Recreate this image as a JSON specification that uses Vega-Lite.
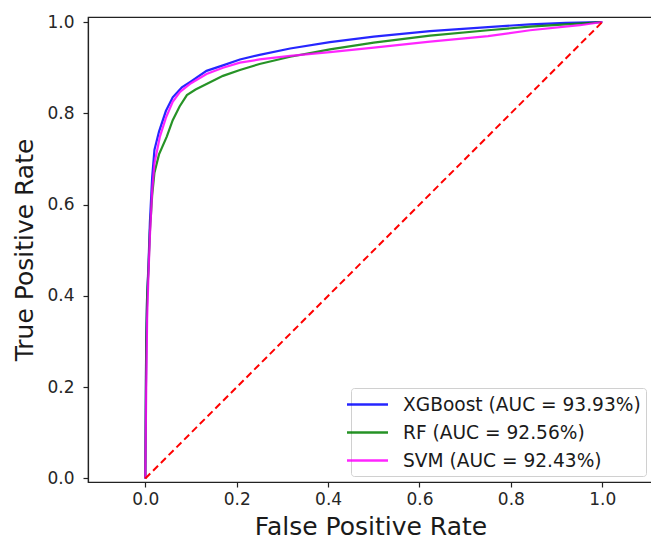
{
  "$schema": "https://vega.github.io/schema/vega-lite/v6.json",
  "width": 565,
  "height": 465,
  "autosize": {"type": "none"},
  "padding": {"left": 88, "top": 17, "right": 0, "bottom": 57},
  "background": "white",
  "config": {
    "view": {"stroke": "#222", "strokeWidth": 1.2},
    "font": "DejaVu Sans",
    "axis": {"grid": false, "domainColor": "#222", "tickColor": "#222", "labelColor": "#262626", "titleColor": "#1a1a1a", "labelFont": "DejaVu Sans", "titleFont": "DejaVu Sans", "titleFontWeight": "normal", "tickSize": 5, "domainWidth": 1.2, "tickWidth": 1.2}
  },
  "datasets": {
    "roc": [
      {"model": "XGBoost (AUC = 93.93%)", "fpr": 0, "tpr": 0},
      {"model": "XGBoost (AUC = 93.93%)", "fpr": 0.001, "tpr": 0.15},
      {"model": "XGBoost (AUC = 93.93%)", "fpr": 0.002, "tpr": 0.30},
      {"model": "XGBoost (AUC = 93.93%)", "fpr": 0.004, "tpr": 0.40},
      {"model": "XGBoost (AUC = 93.93%)", "fpr": 0.007, "tpr": 0.47},
      {"model": "XGBoost (AUC = 93.93%)", "fpr": 0.01, "tpr": 0.56},
      {"model": "XGBoost (AUC = 93.93%)", "fpr": 0.015, "tpr": 0.66},
      {"model": "XGBoost (AUC = 93.93%)", "fpr": 0.02, "tpr": 0.72},
      {"model": "XGBoost (AUC = 93.93%)", "fpr": 0.03, "tpr": 0.76},
      {"model": "XGBoost (AUC = 93.93%)", "fpr": 0.045, "tpr": 0.805},
      {"model": "XGBoost (AUC = 93.93%)", "fpr": 0.06, "tpr": 0.835},
      {"model": "XGBoost (AUC = 93.93%)", "fpr": 0.08, "tpr": 0.857},
      {"model": "XGBoost (AUC = 93.93%)", "fpr": 0.1, "tpr": 0.87},
      {"model": "XGBoost (AUC = 93.93%)", "fpr": 0.134, "tpr": 0.893},
      {"model": "XGBoost (AUC = 93.93%)", "fpr": 0.17, "tpr": 0.905},
      {"model": "XGBoost (AUC = 93.93%)", "fpr": 0.207, "tpr": 0.918},
      {"model": "XGBoost (AUC = 93.93%)", "fpr": 0.25, "tpr": 0.928},
      {"model": "XGBoost (AUC = 93.93%)", "fpr": 0.317, "tpr": 0.942},
      {"model": "XGBoost (AUC = 93.93%)", "fpr": 0.404, "tpr": 0.956},
      {"model": "XGBoost (AUC = 93.93%)", "fpr": 0.5, "tpr": 0.968},
      {"model": "XGBoost (AUC = 93.93%)", "fpr": 0.623, "tpr": 0.98},
      {"model": "XGBoost (AUC = 93.93%)", "fpr": 0.75, "tpr": 0.989},
      {"model": "XGBoost (AUC = 93.93%)", "fpr": 0.842, "tpr": 0.995},
      {"model": "XGBoost (AUC = 93.93%)", "fpr": 0.92, "tpr": 0.998},
      {"model": "XGBoost (AUC = 93.93%)", "fpr": 1, "tpr": 1},
      {"model": "RF (AUC = 92.56%)", "fpr": 0, "tpr": 0},
      {"model": "RF (AUC = 92.56%)", "fpr": 0.001, "tpr": 0.15},
      {"model": "RF (AUC = 92.56%)", "fpr": 0.002, "tpr": 0.30},
      {"model": "RF (AUC = 92.56%)", "fpr": 0.004, "tpr": 0.40},
      {"model": "RF (AUC = 92.56%)", "fpr": 0.007, "tpr": 0.46},
      {"model": "RF (AUC = 92.56%)", "fpr": 0.01, "tpr": 0.54},
      {"model": "RF (AUC = 92.56%)", "fpr": 0.015, "tpr": 0.62},
      {"model": "RF (AUC = 92.56%)", "fpr": 0.02, "tpr": 0.67},
      {"model": "RF (AUC = 92.56%)", "fpr": 0.03, "tpr": 0.71},
      {"model": "RF (AUC = 92.56%)", "fpr": 0.047, "tpr": 0.749},
      {"model": "RF (AUC = 92.56%)", "fpr": 0.06, "tpr": 0.785},
      {"model": "RF (AUC = 92.56%)", "fpr": 0.075, "tpr": 0.815},
      {"model": "RF (AUC = 92.56%)", "fpr": 0.091, "tpr": 0.84},
      {"model": "RF (AUC = 92.56%)", "fpr": 0.11, "tpr": 0.852},
      {"model": "RF (AUC = 92.56%)", "fpr": 0.134, "tpr": 0.864},
      {"model": "RF (AUC = 92.56%)", "fpr": 0.17, "tpr": 0.882},
      {"model": "RF (AUC = 92.56%)", "fpr": 0.207, "tpr": 0.895},
      {"model": "RF (AUC = 92.56%)", "fpr": 0.25, "tpr": 0.908},
      {"model": "RF (AUC = 92.56%)", "fpr": 0.317, "tpr": 0.924},
      {"model": "RF (AUC = 92.56%)", "fpr": 0.404, "tpr": 0.94},
      {"model": "RF (AUC = 92.56%)", "fpr": 0.5, "tpr": 0.955},
      {"model": "RF (AUC = 92.56%)", "fpr": 0.623, "tpr": 0.97},
      {"model": "RF (AUC = 92.56%)", "fpr": 0.75, "tpr": 0.982},
      {"model": "RF (AUC = 92.56%)", "fpr": 0.842, "tpr": 0.99},
      {"model": "RF (AUC = 92.56%)", "fpr": 0.92, "tpr": 0.995},
      {"model": "RF (AUC = 92.56%)", "fpr": 1, "tpr": 1},
      {"model": "SVM (AUC = 92.43%)", "fpr": 0, "tpr": 0},
      {"model": "SVM (AUC = 92.43%)", "fpr": 0.002, "tpr": 0.2},
      {"model": "SVM (AUC = 92.43%)", "fpr": 0.004, "tpr": 0.35},
      {"model": "SVM (AUC = 92.43%)", "fpr": 0.007, "tpr": 0.45},
      {"model": "SVM (AUC = 92.43%)", "fpr": 0.01, "tpr": 0.53},
      {"model": "SVM (AUC = 92.43%)", "fpr": 0.015, "tpr": 0.63},
      {"model": "SVM (AUC = 92.43%)", "fpr": 0.02, "tpr": 0.69},
      {"model": "SVM (AUC = 92.43%)", "fpr": 0.032, "tpr": 0.749},
      {"model": "SVM (AUC = 92.43%)", "fpr": 0.045, "tpr": 0.79},
      {"model": "SVM (AUC = 92.43%)", "fpr": 0.06, "tpr": 0.825},
      {"model": "SVM (AUC = 92.43%)", "fpr": 0.076, "tpr": 0.847},
      {"model": "SVM (AUC = 92.43%)", "fpr": 0.1, "tpr": 0.866},
      {"model": "SVM (AUC = 92.43%)", "fpr": 0.134, "tpr": 0.886},
      {"model": "SVM (AUC = 92.43%)", "fpr": 0.17, "tpr": 0.9},
      {"model": "SVM (AUC = 92.43%)", "fpr": 0.207, "tpr": 0.911},
      {"model": "SVM (AUC = 92.43%)", "fpr": 0.25, "tpr": 0.918},
      {"model": "SVM (AUC = 92.43%)", "fpr": 0.317, "tpr": 0.926},
      {"model": "SVM (AUC = 92.43%)", "fpr": 0.404, "tpr": 0.934},
      {"model": "SVM (AUC = 92.43%)", "fpr": 0.5, "tpr": 0.944},
      {"model": "SVM (AUC = 92.43%)", "fpr": 0.623, "tpr": 0.957},
      {"model": "SVM (AUC = 92.43%)", "fpr": 0.75, "tpr": 0.969},
      {"model": "SVM (AUC = 92.43%)", "fpr": 0.842, "tpr": 0.982},
      {"model": "SVM (AUC = 92.43%)", "fpr": 0.951, "tpr": 0.993},
      {"model": "SVM (AUC = 92.43%)", "fpr": 1, "tpr": 1}
    ],
    "diag": [
      {"fpr": 0, "tpr": 0},
      {"fpr": 1, "tpr": 1}
    ]
  },
  "layer": [
    {
      "data": {"name": "roc"},
      "mark": {"type": "line", "strokeWidth": 2.2, "strokeOpacity": 0.85, "clip": true},
      "encoding": {
        "x": {"field": "fpr", "type": "quantitative", "scale": {"domain": [-0.1254, 1.111], "nice": false, "zero": false},
          "axis": {"title": "False Positive Rate", "values": [0, 0.2, 0.4, 0.6, 0.8, 1.0], "format": ".1f", "labelFontSize": 17, "titleFontSize": 25, "labelPadding": 4, "titlePadding": 7}},
        "y": {"field": "tpr", "type": "quantitative", "scale": {"domain": [-0.0077, 1.011], "nice": false, "zero": false},
          "axis": {"title": "True Positive Rate", "values": [0, 0.2, 0.4, 0.6, 0.8, 1.0], "format": ".1f", "labelFontSize": 17, "titleFontSize": 25, "labelPadding": 9, "titlePadding": 9}},
        "color": {"field": "model", "type": "nominal",
          "scale": {"domain": ["XGBoost (AUC = 93.93%)", "RF (AUC = 92.56%)", "SVM (AUC = 92.43%)"], "range": ["#0000ff", "#008000", "#ff00ff"]},
          "legend": {"title": null, "orient": "none", "legendX": 263, "legendY": 371, "symbolType": "M-2.05,0H2.05", "symbolSize": 400, "symbolStrokeWidth": 2.5, "symbolOpacity": 0.85, "labelFontSize": 18.6, "labelLimit": 400, "labelFont": "DejaVu Sans", "labelColor": "#1a1a1a", "labelOffset": 24, "rowPadding": 6, "padding": 5, "strokeColor": "#d0d0d0", "fillColor": "rgba(255,255,255,0.85)", "cornerRadius": 3}}
      }
    },
    {
      "data": {"name": "diag"},
      "mark": {"type": "line", "color": "#ff0000", "strokeWidth": 2, "strokeDash": [7, 4]},
      "encoding": {
        "x": {"field": "fpr", "type": "quantitative"},
        "y": {"field": "tpr", "type": "quantitative"}
      }
    }
  ]
}
